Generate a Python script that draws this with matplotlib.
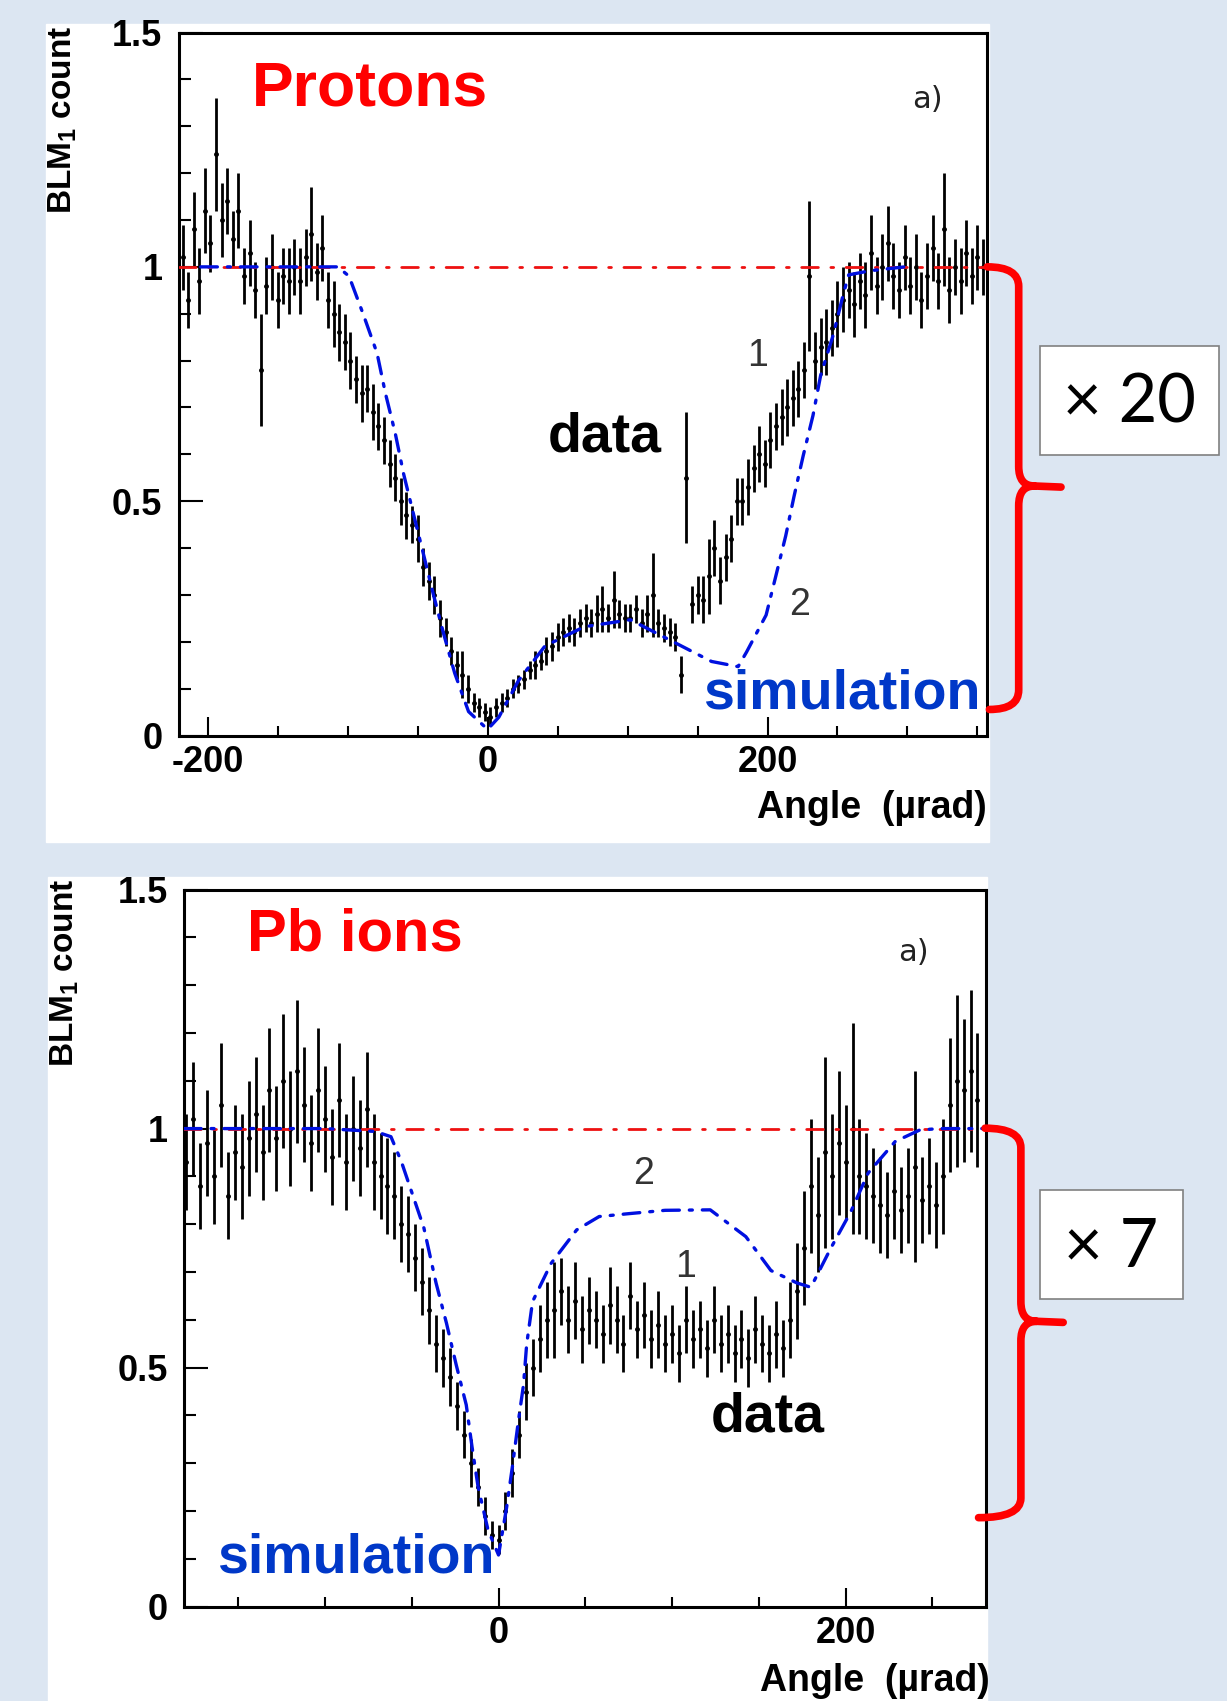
import numpy as np
import matplotlib.pyplot as plt
from matplotlib.path import Path
from matplotlib.patches import PathPatch, Rectangle
from matplotlib.ticker import MultipleLocator

plt.rcParams['font.family'] = ['Liberation Sans', 'DejaVu Sans']
plt.rcParams['mathtext.fontset'] = 'custom'
plt.rcParams['mathtext.rm'] = 'Liberation Sans'
plt.rcParams['mathtext.bf'] = 'Liberation Sans:bold'

# ---- Protons: BLM1 count, bins of 4 urad starting at -218 urad ----
p_start, p_step = -218, 4
p_counts = [1.02, 0.93, 1.08, 0.97, 1.12, 1.05, 1.24, 1.10, 1.14, 1.06,
            1.12, 0.98, 1.03, 0.95, 0.78, 0.96, 1.00, 0.93, 0.98, 0.97,
            1.00, 0.97, 1.02, 1.07, 0.99, 1.04, 0.93, 0.90, 0.86, 0.84,
            0.80, 0.76, 0.73, 0.74, 0.69, 0.66, 0.63, 0.58, 0.55, 0.50,
            0.47, 0.45, 0.42, 0.36, 0.33, 0.30, 0.25, 0.22, 0.18, 0.15,
            0.13, 0.10, 0.07, 0.06, 0.05, 0.04, 0.06, 0.07, 0.08, 0.10,
            0.11, 0.12, 0.14, 0.15, 0.16, 0.18, 0.19, 0.21, 0.22, 0.23,
            0.22, 0.24, 0.25, 0.24, 0.26, 0.27, 0.25, 0.29, 0.26, 0.25,
            0.25, 0.27, 0.24, 0.26, 0.30, 0.24, 0.23, 0.22, 0.21, 0.13,
            0.55, 0.28, 0.30, 0.29, 0.34, 0.40, 0.33, 0.38, 0.42, 0.50,
            0.50, 0.53, 0.57, 0.60, 0.58, 0.63, 0.66, 0.68, 0.70, 0.72,
            0.74, 0.78, 0.98, 0.80, 0.83, 0.84, 0.87, 0.90, 0.93, 0.95,
            0.92, 0.97, 0.94, 1.03, 0.96, 1.00, 1.05, 0.98, 0.95, 1.02,
            0.96, 1.00, 0.93, 0.98, 1.04, 0.97, 1.08, 0.95, 1.00, 0.97,
            1.03, 0.98, 1.02, 1.00]
p_errors = [0.07, 0.06, 0.08, 0.07, 0.09, 0.06, 0.12, 0.08, 0.07, 0.06,
            0.08, 0.06, 0.07, 0.06, 0.12, 0.06, 0.07, 0.06, 0.06, 0.07,
            0.06, 0.07, 0.06, 0.10, 0.06, 0.07, 0.06, 0.07, 0.06, 0.06,
            0.06, 0.05, 0.06, 0.05, 0.06, 0.05, 0.05, 0.05, 0.05, 0.05,
            0.05, 0.04, 0.05, 0.04, 0.04, 0.04, 0.04, 0.03, 0.03, 0.03,
            0.05, 0.03, 0.02, 0.02, 0.02, 0.02, 0.02, 0.02, 0.02, 0.02,
            0.02, 0.02, 0.02, 0.03, 0.02, 0.03, 0.03, 0.03, 0.03, 0.03,
            0.03, 0.03, 0.03, 0.03, 0.04, 0.05, 0.03, 0.06, 0.03, 0.03,
            0.03, 0.03, 0.03, 0.04, 0.09, 0.03, 0.03, 0.03, 0.03, 0.04,
            0.14, 0.04, 0.04, 0.05, 0.08, 0.06, 0.05, 0.05, 0.05, 0.05,
            0.05, 0.06, 0.05, 0.06, 0.05, 0.06, 0.05, 0.06, 0.06, 0.06,
            0.06, 0.06, 0.16, 0.06, 0.06, 0.07, 0.06, 0.07, 0.07, 0.06,
            0.07, 0.06, 0.07, 0.08, 0.06, 0.07, 0.08, 0.07, 0.06, 0.07,
            0.06, 0.07, 0.06, 0.07, 0.07, 0.06, 0.12, 0.07, 0.06, 0.07,
            0.07, 0.06, 0.07, 0.06]
p_sim_x = [-205, -194, -161, -127, -107, -99, -89, -79, -73, -66, -60, -53,
           -46, -39, -31.5, -23.5, -13.6, 0, 8, 22, 41, 69, 102, 130, 160,
           179, 185, 199, 206, 213, 219, 225.5, 232.5, 238, 247, 254, 258,
           274, 298]
p_sim_y = [1.0, 1.0, 1.0, 1.0, 1.0, 0.98, 0.90, 0.816, 0.73, 0.645, 0.558,
           0.473, 0.389, 0.304, 0.218, 0.133, 0.051, 0.013, 0.039, 0.117,
           0.191, 0.232, 0.247, 0.204, 0.158, 0.147, 0.178, 0.257, 0.341,
           0.426, 0.511, 0.597, 0.683, 0.769, 0.855, 0.94, 0.983, 0.992, 1.0]

# ---- Pb ions: BLM1 count, bins of 4 urad starting at -180 urad ----
pb_start, pb_step = -180, 4
pb_counts = [0.93, 1.02, 0.88, 0.97, 0.90, 1.05, 0.86, 0.95, 0.92, 0.98,
             1.03, 0.95, 1.08, 0.98, 1.10, 1.00, 1.12, 1.05, 0.97, 1.08,
             1.02, 0.94, 1.06, 0.93, 1.00, 0.96, 1.04, 0.93, 0.90, 0.88,
             0.86, 0.80, 0.78, 0.73, 0.68, 0.62, 0.55, 0.52, 0.48, 0.42,
             0.36, 0.30, 0.25, 0.19, 0.15, 0.14, 0.20, 0.28, 0.36, 0.45,
             0.50, 0.56, 0.60, 0.62, 0.66, 0.60, 0.64, 0.58, 0.62, 0.60,
             0.57, 0.63, 0.60, 0.55, 0.65, 0.58, 0.61, 0.56, 0.59, 0.55,
             0.57, 0.53, 0.60, 0.56, 0.58, 0.54, 0.60, 0.55, 0.57, 0.53,
             0.56, 0.52, 0.58, 0.55, 0.53, 0.57, 0.54, 0.60, 0.66, 0.75,
             0.88, 0.82, 0.95, 0.90, 0.97, 0.93, 1.00, 0.90, 0.88, 0.86,
             0.84, 0.82, 0.87, 0.83, 0.86, 0.92, 0.85, 0.88, 0.84, 0.90,
             1.05, 1.10, 1.08, 1.12, 1.06]
pb_errors = [0.10, 0.12, 0.09, 0.11, 0.10, 0.13, 0.09, 0.10, 0.11, 0.12,
             0.12, 0.10, 0.13, 0.11, 0.14, 0.12, 0.15, 0.12, 0.10, 0.13,
             0.11, 0.10, 0.12, 0.10, 0.11, 0.10, 0.12, 0.10, 0.09, 0.10,
             0.09, 0.08, 0.08, 0.07, 0.07, 0.07, 0.06, 0.06, 0.06, 0.05,
             0.05, 0.05, 0.04, 0.04, 0.03, 0.03, 0.04, 0.05, 0.05, 0.06,
             0.06, 0.07, 0.08, 0.10, 0.07, 0.07, 0.08, 0.07, 0.07, 0.06,
             0.06, 0.08, 0.07, 0.06, 0.07, 0.06, 0.07, 0.06, 0.07, 0.06,
             0.06, 0.06, 0.07, 0.06, 0.06, 0.06, 0.07, 0.06, 0.06, 0.06,
             0.06, 0.06, 0.07, 0.06, 0.06, 0.07, 0.06, 0.08, 0.10, 0.12,
             0.14, 0.12, 0.20, 0.13, 0.15, 0.12, 0.22, 0.12, 0.11, 0.10,
             0.10, 0.09, 0.10, 0.09, 0.10, 0.20, 0.09, 0.10, 0.09, 0.12,
             0.14, 0.18, 0.15, 0.17, 0.14]
pb_sim_x = [-181, -140, -100, -71, -62, -56, -43, -36, -30, -24.4, -18.6,
            -15.3, -11.8, -6.1, 0, 4.6, 8, 11.4, 14.4, 16.2, 19.6, 30.3, 45,
            58, 75, 96, 122, 142.5, 157, 172, 180, 191.5, 203, 213, 228.6,
            242.7, 254, 281]
pb_sim_y = [1.0, 1.0, 1.0, 0.994, 0.983, 0.931, 0.792, 0.677, 0.593, 0.506,
            0.422, 0.335, 0.251, 0.161, 0.108, 0.206, 0.293, 0.387, 0.464,
            0.548, 0.638, 0.718, 0.788, 0.816, 0.822, 0.829, 0.830, 0.774,
            0.703, 0.677, 0.668, 0.750, 0.826, 0.907, 0.973, 0.997, 1.0, 1.0]

y_ticks = [0, 0.5, 1, 1.5]
y_tick_labels = ['0', '0.5', '1', '1.5']

# layout grid in reference pixels
W, H = 1131, 1568


def fx(x):
    return x / W


def fy(y):
    return 1 - y / H


def box(x0, y0, x1, y1):
    return [fx(x0), fy(y1), (x1 - x0) / W, (y1 - y0) / H]


fig = plt.figure(figsize=(12.27, 17.01), dpi=100, facecolor='#dce6f2')

# white panels behind the two plots
fig.add_artist(Rectangle((fx(42), fy(776)), 870 / W, 754 / H,
                         transform=fig.transFigure, color='white', zorder=0))
fig.add_artist(Rectangle((fx(44), fy(1568)), 866 / W, 760 / H,
                         transform=fig.transFigure, color='white', zorder=0))


def panel(ax, start, step, counts, errors, sim_x, sim_y, xlim, xmajor):
    x = start + step * np.arange(len(counts))
    ax.errorbar(x, counts, yerr=errors, fmt='.', color='black', ms=5,
                elinewidth=2.0, capsize=0, zorder=2)
    ax.axhline(1, color='#ee1111', lw=2.0, linestyle=(0, (6, 4.5, 1, 4.5)),
               dash_capstyle='round', zorder=3)
    ax.plot(sim_x, sim_y, color='#0010e0', lw=2.4,
            linestyle=(0, (5, 3, 0.9, 3)), dash_capstyle='round', zorder=4)
    ax.set_xlim(*xlim)
    ax.set_ylim(0, 1.5)
    ax.set_xticks(xmajor)
    ax.set_xticklabels([str(v) for v in xmajor])
    ax.xaxis.set_minor_locator(MultipleLocator(50))
    ax.set_yticks(y_ticks)
    ax.set_yticklabels(y_tick_labels)
    ax.yaxis.set_minor_locator(MultipleLocator(0.1))
    ax.tick_params(axis='x', which='major', direction='in', length=14,
                   width=1.5, pad=7, labelsize=26)
    ax.tick_params(axis='x', which='minor', direction='in', length=7, width=1.5)
    ax.tick_params(axis='y', which='major', direction='in', length=17,
                   width=1.5, pad=12, labelsize=26)
    ax.tick_params(axis='y', which='minor', direction='in', length=8.5, width=1.5)
    for lab in ax.get_xticklabels() + ax.get_yticklabels():
        lab.set_fontweight('bold')
    for sp in ax.spines.values():
        sp.set_linewidth(2.2)


ax1 = fig.add_axes(box(165, 30, 910, 678))
panel(ax1, p_start, p_step, p_counts, p_errors, p_sim_x, p_sim_y,
      (-220.5, 357), [-200, 0, 200])

ax2 = fig.add_axes(box(170, 820, 909, 1481))
panel(ax2, pb_start, pb_step, pb_counts, pb_errors, pb_sim_x, pb_sim_y,
      (-181, 281), [0, 200])

# axis titles
ylab = r'BLM$_\mathbf{1}$ count'
fig.text(fx(58), fy(24), ylab, rotation=90, ha='center', va='top',
         fontsize=24, fontweight='bold')
fig.text(fx(60), fy(810), ylab, rotation=90, ha='center', va='top',
         fontsize=24, fontweight='bold')
fig.text(fx(910), fy(745), 'Angle  (\u00b5rad)', ha='right', va='center',
         fontsize=27, fontweight='bold')
fig.text(fx(912), fy(1550), 'Angle  (\u00b5rad)', ha='right', va='center',
         fontsize=27, fontweight='bold')

# annotations in the plots
red, blue = '#ff0000', '#0038c8'
fig.text(fx(232), fy(82), 'Protons', color=red, fontsize=45,
         fontweight='bold', va='center')
fig.text(fx(505), fy(403), 'data', color='black', fontsize=40,
         fontweight='bold', va='center')
fig.text(fx(648), fy(640), 'simulation', color=blue, fontsize=40,
         fontweight='bold', va='center')
fig.text(fx(855), fy(92), 'a)', color='#222222', fontsize=22, ha='center',
         va='center', family='DejaVu Sans')
fig.text(fx(698), fy(328), '1', color='#333333', fontsize=27, ha='center',
         va='center')
fig.text(fx(737), fy(558), '2', color='#333333', fontsize=27, ha='center',
         va='center')

fig.text(fx(228), fy(862), 'Pb ions', color=red, fontsize=43,
         fontweight='bold', va='center')
fig.text(fx(655), fy(1307), 'data', color='black', fontsize=40,
         fontweight='bold', va='center')
fig.text(fx(200), fy(1437), 'simulation', color=blue, fontsize=40,
         fontweight='bold', va='center')
fig.text(fx(842), fy(878), 'a)', color='#222222', fontsize=22, ha='center',
         va='center', family='DejaVu Sans')
fig.text(fx(593), fy(1082), '2', color='#333333', fontsize=27, ha='center',
         va='center')
fig.text(fx(632), fy(1168), '1', color='#333333', fontsize=27, ha='center',
         va='center')


# red curly braces with scale-factor boxes
def brace(x0, y_top, y_bot, y_mid, x_v, x_tip, x_end, r=18):
    pts = [(x0, y_top), (x_v, y_top), (x_v, y_top + r),
           (x_v, y_mid - r), (x_v, y_mid), (x_v + r * 0.8, y_mid),
           (x_tip, y_mid + 1),
           (x_v + r * 0.8, y_mid), (x_v, y_mid), (x_v, y_mid + r),
           (x_v, y_bot - r), (x_v, y_bot), (x_end, y_bot)]
    codes = [Path.MOVETO, Path.CURVE3, Path.CURVE3,
             Path.LINETO, Path.CURVE3, Path.CURVE3,
             Path.LINETO,
             Path.MOVETO, Path.CURVE3, Path.CURVE3,
             Path.LINETO, Path.CURVE3, Path.CURVE3]
    verts = [(fx(a), fy(b)) for a, b in pts]
    fig.add_artist(PathPatch(Path(verts, codes), transform=fig.transFigure,
                             fill=False, edgecolor='#ff0000', lw=5.5,
                             capstyle='round', joinstyle='round', zorder=5))


def scale_box(x0, y0, x1, y1, label):
    fig.add_artist(Rectangle((fx(x0), fy(y1)), (x1 - x0) / W, (y1 - y0) / H,
                             transform=fig.transFigure, facecolor='white',
                             edgecolor='#808080', lw=1.2, zorder=5))
    fig.text(fx((x0 + x1) / 2), fy((y0 + y1) / 2 + 3), label, ha='center',
             va='center', fontsize=48, family='Lato', zorder=6)


brace(910, 246, 654, 448, 939, 978, 912)
scale_box(959, 319, 1124, 419, '\u00d7 20')

brace(908, 1040, 1399, 1218, 941, 980, 902)
scale_box(959, 1097, 1090, 1197, '\u00d7 7')

fig.savefig('out.png', dpi=100, facecolor=fig.get_facecolor())
